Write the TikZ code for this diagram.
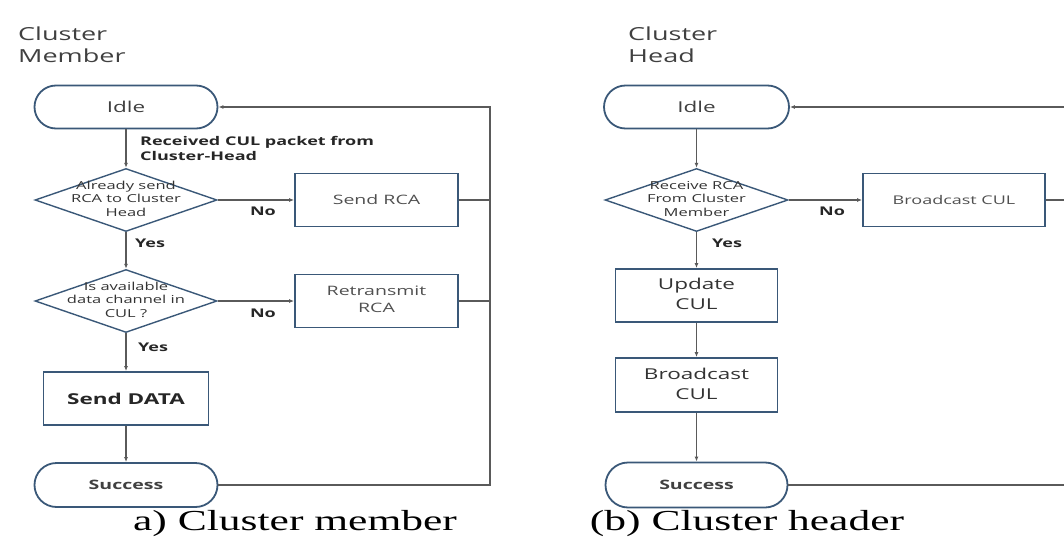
\documentclass[tikz,border=0pt]{standalone}
\usepackage{fontspec}
\usepackage{graphicx}
\setmainfont{Open Sans}
\newfontfamily\capfont{Liberation Serif}
\usetikzlibrary{shapes.geometric,shapes.misc,arrows.meta}
\newcommand{\sx}[1]{\scalebox{1.5}[1]{#1}}
\newcommand{\ml}[1]{\sx{\begin{tabular}{@{}c@{}}#1\end{tabular}}}
\newcommand{\mll}[1]{\sx{\begin{tabular}{@{}l@{}}#1\end{tabular}}}
\definecolor{boxblue}{HTML}{3A5878}
\definecolor{linegray}{HTML}{5A5A5A}
\definecolor{txtgray}{HTML}{505050}
\begin{document}
\begin{tikzpicture}[x=1pt,y=-1pt,
  term/.style={rounded rectangle, draw=boxblue, line width=1.8pt, minimum width=183pt, minimum height=43pt, inner sep=0pt, text=black!75},
  proc/.style={rectangle, draw=boxblue, line width=1.8pt, inner sep=0pt, text=txtgray},
  dec/.style={diamond, draw=boxblue, line width=1.4pt, minimum width=182pt, minimum height=63pt, inner sep=0pt},
  dtext/.style={text=black!80, font=\fontsize{11}{13.5}\selectfont, align=center, inner sep=0pt},
  conn/.style={draw=linegray, line width=1.1pt},
  arr/.style={conn, -{Latex[length=5pt,width=4pt]}},
  lbl/.style={font=\bfseries\fontsize{12}{15}\selectfont, text=black!85, inner sep=0pt},
  titl/.style={font=\fontsize{18}{22}\selectfont, text=black!75, inner sep=0pt, anchor=north west},
  capt/.style={font=\capfont\fontsize{29}{31}\selectfont, inner sep=0pt, anchor=base}
]
\useasboundingbox (0,0) rectangle (1064,537);
% ---------- left: cluster member ----------
\node[titl] (tA) at (18,25) {\mll{Cluster\\Member}};
\node[term, font=\fontsize{15}{18}\selectfont] (idleA) at (126,107) {\sx{Idle}};
\node[dec] (dA1) at (126,200) {};
\node[dtext] (dA1t) at (dA1) {\ml{Already send\\RCA to Cluster\\Head}};
\node[proc, minimum width=163pt, minimum height=53pt, font=\fontsize{13}{16}\selectfont] (sendRCA) at (376.5,200) {\sx{Send RCA}};
\node[dec] (dA2) at (126,301) {};
\node[dtext] (dA2t) at (dA2) {\ml{Is available\\data channel in\\CUL ?}};
\node[proc, minimum width=163pt, minimum height=53pt, font=\fontsize{13}{17}\selectfont] (retx) at (376.5,301) {\ml{Retransmit\\RCA}};
\node[proc, minimum width=165pt, minimum height=53pt, text=black!85, font=\bfseries\fontsize{15}{18}\selectfont] (sendData) at (126,398.5) {\sx{Send DATA}};
\node[term, minimum height=44pt, font=\bfseries\fontsize{13}{16}\selectfont] (succA) at (126,485) {\sx{Success}};
\coordinate (cA) at (490,107);
\node[lbl, anchor=north west] (rcv) at (140,135) {\mll{Received CUL packet from\\Cluster-Head}};
\node[lbl] (noA1) at (263,211) {\sx{No}};
\node[lbl] (yesA1) at (150,243) {\sx{Yes}};
\node[lbl] (noA2) at (263,313) {\sx{No}};
\node[lbl] (yesA2) at (153,347) {\sx{Yes}};
\draw[arr] (idleA.south) -- (dA1.north);
\draw[arr] (dA1.east) -- (sendRCA.west);
\draw[arr] (dA1.south) -- (dA2.north);
\draw[arr] (dA2.east) -- (retx.west);
\draw[arr] (dA2.south) -- (sendData.north);
\draw[arr] (sendData.south) -- (succA.north);
\draw[conn] (sendRCA.east) -- (sendRCA.east -| cA);
\draw[conn] (retx.east) -- (retx.east -| cA);
\draw[arr] (succA.east) -| (cA) -- (idleA.east);
\node[capt] (capA) at (295,530) {\sx{a) Cluster member}};
% ---------- right: cluster head ----------
\node[titl] (tB) at (628,25) {\mll{Cluster\\Head}};
\node[term, minimum width=185pt, font=\fontsize{15}{18}\selectfont] (idleB) at (696.5,107) {\sx{Idle}};
\node[dec, minimum width=183pt] (dB) at (696.5,200) {};
\node[dtext] (dBt) at (dB) {\ml{Receive RCA\\From Cluster\\Member}};
\node[proc, minimum width=182pt, minimum height=53pt, font=\fontsize{12}{15}\selectfont] (bc1) at (954,200) {\sx{Broadcast CUL}};
\node[proc, minimum width=162pt, minimum height=53pt, text=black!80, font=\fontsize{15}{20}\selectfont] (upd) at (696.5,295.5) {\ml{Update\\CUL}};
\node[proc, minimum width=162pt, minimum height=54pt, text=black!80, font=\fontsize{15}{20}\selectfont] (bc2) at (696.5,385) {\ml{Broadcast\\CUL}};
\node[term, minimum width=182pt, minimum height=45pt, font=\bfseries\fontsize{13}{16}\selectfont] (succB) at (696.5,485) {\sx{Success}};
\coordinate (eB1) at (1064,107);
\coordinate (eB2) at (1064,200);
\coordinate (eB3) at (1064,485);
\node[lbl] (noB) at (832,211) {\sx{No}};
\node[lbl] (yesB) at (727,243) {\sx{Yes}};
\draw[arr] (idleB.south) -- (dB.north);
\draw[arr] (dB.east) -- (bc1.west);
\draw[arr] (dB.south) -- (upd.north);
\draw[arr] (upd.south) -- (bc2.north);
\draw[arr] (bc2.south) -- (succB.north);
\draw[conn] (bc1.east) -- (eB2);
\draw[conn] (succB.east) -- (eB3);
\draw[arr] (eB1) -- (idleB.east);
\node[capt] (capB) at (747,530) {\sx{(b) Cluster header}};
\end{tikzpicture}
\end{document}
